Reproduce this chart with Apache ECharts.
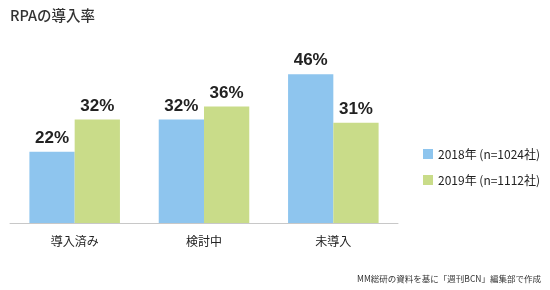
<!DOCTYPE html>
<html><head><meta charset="utf-8">
<script src="https://cdn.jsdelivr.net/npm/echarts@6/dist/echarts.min.js"></script>
<style>html,body{margin:0;padding:0;background:#fff}#c{width:550px;height:290px}</style>
</head><body><div id="c"></div>
<script>
const categories = ['導入済み', '検討中', '未導入'];
const series2018 = [22, 32, 46];
const series2019 = [32, 36, 31];
const seriesNames = ['2018年 (n=1024社)', '2019年 (n=1112社)'];
const titleText = 'RPAの導入率';
const sourceText = 'MM総研の資料を基に「週刊BCN」編集部で作成';

const font = '"Noto Sans CJK JP", "Noto Sans", sans-serif';
const chart = echarts.init(document.getElementById('c'));
const lbl = {show: true, position: 'top', distance: 5, formatter: '{c}%', fontSize: 17, fontWeight: 'bold', color: '#222', fontFamily: '"Liberation Sans", sans-serif'};
chart.setOption({
  animation: false,
  title: [
    {text: titleText, left: 5, top: 3, textStyle: {fontSize: 14.5, fontWeight: 500, color: '#333', fontFamily: font}},
    {text: sourceText, right: 4, bottom: 2, textStyle: {fontSize: 8.5, fontWeight: 'normal', color: '#333', fontFamily: font}}
  ],
  legend: {
    orient: 'vertical', left: 418, top: 143, itemWidth: 10, itemHeight: 10, itemGap: 14,
    icon: 'rect',
    textStyle: {fontSize: 12, color: '#222', fontFamily: font},
    data: seriesNames
  },
  grid: {left: 10, right: 152, top: 29, bottom: 67},
  xAxis: {
    type: 'category', data: categories,
    axisLine: {lineStyle: {color: '#c8c8c8', width: 1}},
    axisTick: {show: false},
    axisLabel: {fontSize: 12, color: '#222', margin: 12, fontFamily: font}
  },
  yAxis: {type: 'value', min: 0, max: 60, show: false, splitLine: {show: false}},
  series: [
    {name: seriesNames[0], type: 'bar', data: series2018, barGap: '0%', barCategoryGap: '30%', itemStyle: {color: '#8ec5ee'}, label: lbl},
    {name: seriesNames[1], type: 'bar', data: series2019, itemStyle: {color: '#c9dc89'}, label: lbl}
  ]
});
</script></body></html>
